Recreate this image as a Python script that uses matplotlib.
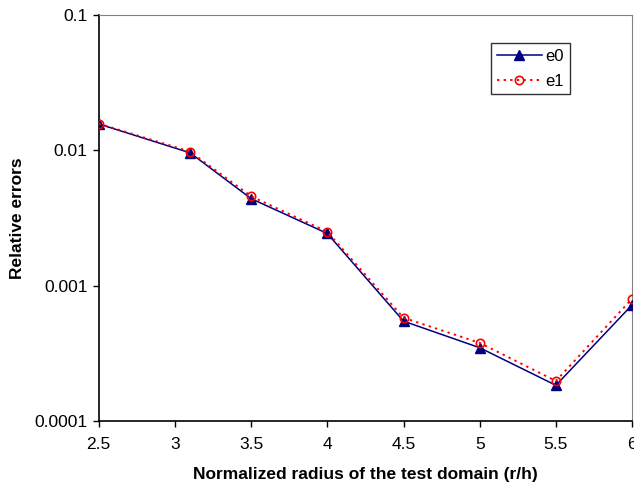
import matplotlib.pyplot as plt
from matplotlib.ticker import FixedLocator, FixedFormatter

plt.rcParams['font.family'] = ['Liberation Sans', 'DejaVu Sans']

radius = [2.5, 3.1, 3.5, 4.0, 4.5, 5.0, 5.5, 6.0]
e0 = [0.0157, 0.0096, 0.0044, 0.00243, 0.000546, 0.000347, 0.000183, 0.00072]
e1 = [0.0158, 0.0098, 0.00458, 0.0025, 0.000578, 0.000377, 0.000197, 0.0008]

x_ticks = [2.5, 3, 3.5, 4, 4.5, 5, 5.5, 6]
x_labels = ["2.5", "3", "3.5", "4", "4.5", "5", "5.5", "6"]
y_ticks = [0.0001, 0.001, 0.01, 0.1]
y_labels = ["0.0001", "0.001", "0.01", "0.1"]

fig = plt.figure(figsize=(6.34, 4.87), dpi=100)
ax = fig.add_axes([0.1557, 0.136, 0.8413, 0.8326])

ax.plot(radius, e0, color='#000080', lw=1.1, marker='^', ms=7,
        mfc='#000080', mec='#000080', label='e0', zorder=3)
ax.plot(radius, e1, color='#ff0000', lw=1.4, ls=(0, (1.2, 2.2)), marker='o', ms=6,
        mfc='none', mec='#ff0000', mew=1.2, label='e1', zorder=4)

ax.set_yscale('log')
ax.set_xlim(2.5, 6)
ax.set_ylim(0.0001, 0.1)
ax.xaxis.set_major_locator(FixedLocator(x_ticks))
ax.xaxis.set_major_formatter(FixedFormatter(x_labels))
ax.yaxis.set_major_locator(FixedLocator(y_ticks))
ax.yaxis.set_major_formatter(FixedFormatter(y_labels))
ax.yaxis.set_minor_locator(FixedLocator([]))
ax.tick_params(axis='both', labelsize=12.5, direction='out', length=4.5, width=1)
ax.tick_params(axis='x', pad=7)
ax.tick_params(axis='y', pad=3.5)

for side in ['top', 'right']:
    ax.spines[side].set_color('#808080')
for side in ['left', 'bottom']:
    ax.spines[side].set_color('black')
    ax.spines[side].set_linewidth(1.2)

ax.set_xlabel("Normalized radius of the test domain (r/h)", fontsize=12.5,
              fontweight='bold', labelpad=11)
ax.set_ylabel("Relative errors", fontsize=12.5, fontweight='bold', labelpad=7)

# legend box placed in figure pixels
leg = ax.legend(loc='upper left', bbox_to_anchor=(490.7 / 634, 1 - 42.7 / 487),
                bbox_transform=fig.transFigure, frameon=True, fancybox=False,
                edgecolor='black', fontsize=12, handlelength=2.7, borderpad=0.35,
                borderaxespad=0, labelspacing=0.6, handletextpad=0.25)
leg.get_frame().set_linewidth(1.0)

fig.savefig("out.png", dpi=100)
